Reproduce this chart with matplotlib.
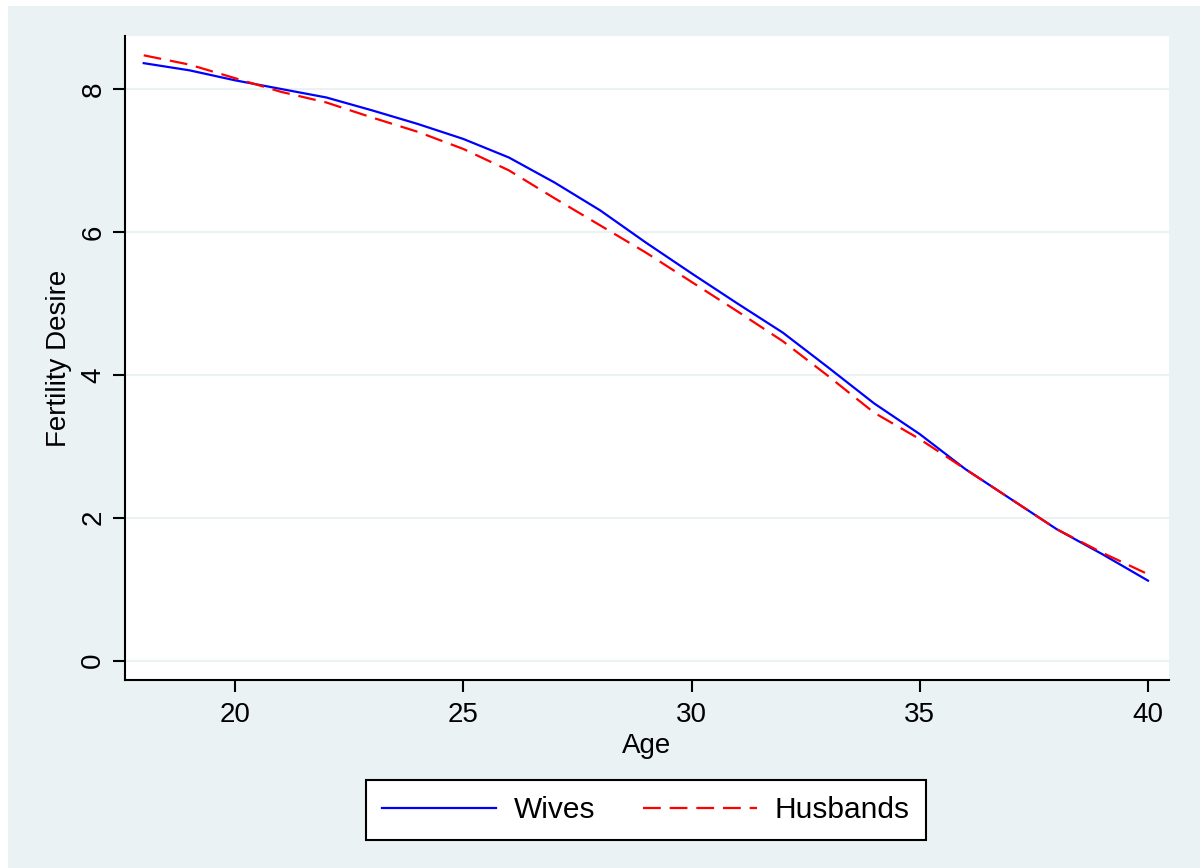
import numpy as np
import matplotlib.pyplot as plt
from matplotlib.patches import Rectangle

plt.rcParams['font.family'] = ['Liberation Sans', 'DejaVu Sans']

# fitted fertility desire by age
age = np.arange(18, 41)
wives = [8.36, 8.26, 8.12, 8.00, 7.88, 7.70, 7.51, 7.30, 7.04, 6.69,
         6.30, 5.85, 5.42, 5.00, 4.59, 4.10, 3.60, 3.17, 2.68, 2.26,
         1.84, 1.49, 1.12]
husbands = [8.47, 8.34, 8.15, 7.96, 7.81, 7.60, 7.40, 7.16, 6.86, 6.47,
            6.09, 5.71, 5.30, 4.89, 4.47, 3.98, 3.47, 3.10, 2.68, 2.26,
            1.84, 1.51, 1.21]

xticks = [20, 25, 30, 35, 40]
yticks = [0, 2, 4, 6, 8]

bg = '#EAF2F3'
W, H = 1200, 868

fig = plt.figure(figsize=(12, 8.68), dpi=100, facecolor='white')
# Stata-style graph region
fig.patches.append(Rectangle((8 / W, 0), 1 - 8 / W, 1 - 6 / H,
                             transform=fig.transFigure, facecolor=bg,
                             edgecolor='none', zorder=-5))

ax = fig.add_axes([125 / W, (H - 680) / H, (1169 - 125) / W, (680 - 36) / H])
ax.set_facecolor('white')

ax.plot(age, wives, color='#0000FF', lw=1.6, label='Wives', zorder=3)
ax.plot(age, husbands, color='#FF0000', lw=1.6, dashes=(8, 4),
        label='Husbands', zorder=3)

ax.set_xlim(17.59, 40.46)
ax.set_ylim(-0.27, 8.74)
ax.set_xticks(xticks)
ax.set_yticks(yticks)
ax.grid(axis='y', color=bg, lw=1.5)
ax.set_axisbelow(True)

for s in ['top', 'right']:
    ax.spines[s].set_visible(False)
for s in ['left', 'bottom']:
    ax.spines[s].set_linewidth(1.5)
    ax.spines[s].set_color('black')

ax.tick_params(axis='both', direction='out', length=8.5, width=1.5,
               labelsize=20, colors='black')
ax.tick_params(axis='x', pad=7)
ax.tick_params(axis='y', pad=5)
for lab in ax.get_yticklabels():
    lab.set_rotation(90)
    lab.set_verticalalignment('center')

ax.set_xlabel('Age', fontsize=20, labelpad=4)
ax.set_ylabel('Fertility Desire', fontsize=20, labelpad=6)

leg = fig.legend(loc='center', bbox_to_anchor=(646 / W, (H - 810) / H),
                 ncol=2, fontsize=21.5, frameon=True, fancybox=False,
                 handlelength=3.8, handletextpad=0.6, columnspacing=1.6,
                 borderpad=0.55, borderaxespad=0, edgecolor='black',
                 framealpha=1)
leg.get_frame().set_linewidth(1.5)

fig.savefig('out.png', dpi=100, facecolor=fig.get_facecolor())
